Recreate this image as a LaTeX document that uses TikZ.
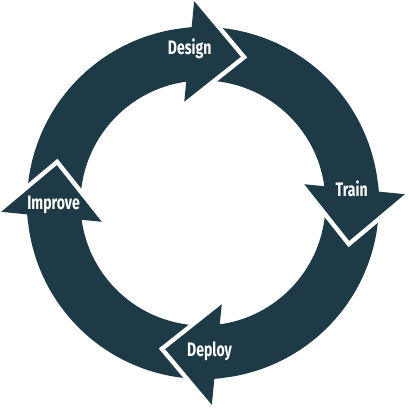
\documentclass[tikz,border=0pt]{standalone}
\usepackage{fontspec}
\newfontfamily\etikettfont{Fira Sans}[FakeStretch=0.72]
\usetikzlibrary{calc}
\definecolor{ringblau}{HTML}{1F3A47}
\tikzset{
    koerper/.style={
        fill=ringblau        % Dunkle Petrol-Fuellung des Rings
    },
    kante/.style={
        draw=white,          % Weisse Trennfuge vor der Pfeilspitze
        line width=9pt,
        line join=miter
    },
    spitze/.style={
        fill=ringblau
    },
    etikett/.style={
        text=white,
        font=\etikettfont\bfseries\fontsize{19.5}{19.5}\selectfont,
        text height=0.7em,
        text depth=0pt,
        inner sep=0pt
    }
}

\begin{document}
\begin{tikzpicture}[x=1pt,y=1pt]

    % Rahmen wie im Original (409 x 408)
    \useasboundingbox (-203,-205) rectangle (206,203);

    % Ringsegmente (Enden liegen unter der vorigen Spitze)
    \fill[koerper] (186.5:176) arc[start angle=186.5, end angle=93.5, radius=176pt]
        -- (97.5:122.5) arc[start angle=97.5, end angle=186.5, radius=122.5pt] -- cycle;
    \fill[koerper] (96.5:176) arc[start angle=96.5, end angle=3.5, radius=176pt]
        -- (7.5:122.5) arc[start angle=7.5, end angle=96.5, radius=122.5pt] -- cycle;
    \fill[koerper] (6.5:176) arc[start angle=6.5, end angle=-86.5, radius=176pt]
        -- (-82.5:122.5) arc[start angle=-82.5, end angle=6.5, radius=122.5pt] -- cycle;
    \fill[koerper] (-83.5:176) arc[start angle=-83.5, end angle=-176.5, radius=176pt]
        -- (-172.5:122.5) arc[start angle=-172.5, end angle=-83.5, radius=122.5pt] -- cycle;

    % Weisse Fugen entlang der Spitzen
    \draw[kante] (92.5:202) -- (75.5:151) -- (100.5:103);
    \draw[kante] (2.5:202) -- (-14.5:151) -- (10.5:103);
    \draw[kante] (-87.5:202) -- (-104.5:151) -- (-79.5:103);
    \draw[kante] (182.5:202) -- (165.5:151) -- (190.5:103);

    % Pfeilspitzen
    \fill[spitze] (92.5:202) -- (75.5:151) -- (100.5:103) -- cycle;
    \fill[spitze] (2.5:202) -- (-14.5:151) -- (10.5:103) -- cycle;
    \fill[spitze] (-87.5:202) -- (-104.5:151) -- (-79.5:103) -- cycle;
    \fill[spitze] (182.5:202) -- (165.5:151) -- (190.5:103) -- cycle;

    % Beschriftungen
    \node[etikett] (Design) at (95:153) {Design};
    \node[etikett] (Train) at (4:149) {Train};
    \node[etikett] (Deploy) at (-87.5:150) {Deploy};
    \node[etikett] (Improve) at (181:149.5) {Improve};

\end{tikzpicture}
\end{document}
